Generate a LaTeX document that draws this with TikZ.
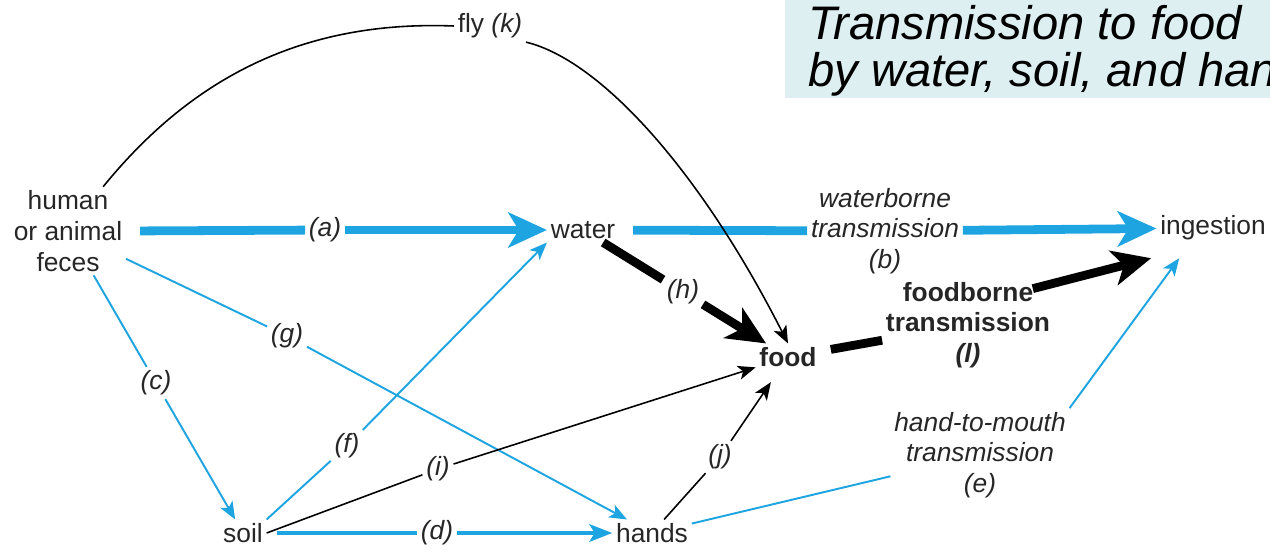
\documentclass[tikz,border=0pt]{standalone}
\usepackage{fontspec}
\setmainfont{Liberation Sans}
\usetikzlibrary{arrows.meta}
\definecolor{flowblue}{RGB}{30,165,225}
\definecolor{titlebg}{RGB}{221,239,241}
\begin{document}
\begin{tikzpicture}[x=0.02cm,y=-0.02cm,
    every node/.style={font=\fontsize{15}{17.5}\selectfont,text=black!85,inner sep=2pt,align=center},
    lab/.style={font=\fontsize{15}{17.5}\selectfont\itshape},
    boldlab/.style={font=\fontsize{15}{17.5}\selectfont\bfseries},
    bigblue/.style={draw=flowblue,line width=5pt},
    bigblack/.style={draw=black,line width=5pt},
    midblue/.style={draw=flowblue,line width=2pt},
    thinblue/.style={draw=flowblue,line width=1.1pt},
    thinblack/.style={draw=black,line width=0.9pt},
    bighead/.style={-{Stealth[length=22pt,width=20pt,inset=6pt]}},
    midhead/.style={-{Stealth[length=13pt,width=10pt,inset=3pt]}},
    smallhead/.style={-{Stealth[length=10pt,width=8pt,inset=2.5pt]}}]
    \useasboundingbox (0,0) rectangle (1270,551);
    \clip (0,0) rectangle (1270,551);
    \fill[titlebg] (785,0) rectangle (1270,98);
    \node[anchor=north west,align=left,inner sep=0pt,text=black,font=\fontsize{26.8}{27}\selectfont\itshape] (title) at (808,5)
        {Transmission to food\\by water, soil, and hands};

    % places
    \node (feces) at (68,231) {human\\or animal\\feces};
    \node (water) at (583,230) {water};
    \node (ingestion) at (1213,228) {ingestion};
    \node[boldlab] (food) at (788,357) {food};
    \node (soil) at (243,533) {soil};
    \node (hands) at (652,533) {hands};
    \node (fly) at (490,26) {fly \textit{(k)}};

    % route labels
    \node[lab] (a) at (325,230) {(a)};
    \node[lab] (wb) at (885,231) {waterborne\\transmission\\(b)};
    \node[lab] (h) at (683,292) {(h)};
    \node[boldlab] (fb) at (968,325) {foodborne\\transmission\\\textit{(l)}};
    \node[lab] (g) at (287,336) {(g)};
    \node[lab] (c) at (156,383) {(c)};
    \node[lab] (f) at (347,446) {(f)};
    \node[lab] (i) at (438,469) {(i)};
    \node[lab] (j) at (720,457) {(j)};
    \node[lab] (he) at (980,455) {hand-to-mouth\\transmission\\(e)};
    \node[lab] (d) at (437,533) {(d)};

    % thick routes
    \draw[bigblue,shorten <=8pt] (feces.east) -- (a);
    \draw[bigblue,bighead] (a) -- (water);
    \draw[bigblue,shorten <=8pt] (water) -- (wb);
    \draw[bigblue,bighead] (wb) -- (ingestion);
    \draw[bigblack] (water) -- (h);
    \draw[bigblack,bighead] (h) -- (food);
    \draw[bigblack,shorten <=6pt] (food) -- (fb);
    \draw[bigblack,bighead] ([shift={(-12pt,-6pt)}]fb.north east) -- ([shift={(-3pt,-8pt)}]ingestion.south west);

    % thin routes
    \draw[thinblue] (feces) -- (c);
    \draw[thinblue,smallhead] (c) -- (soil);
    \draw[thinblue] (feces) -- (g);
    \draw[thinblue,smallhead] (g) -- (hands);
    \draw[thinblue] (soil.north east) -- (f);
    \draw[thinblue,smallhead] (f) -- (water.south west);
    \draw[thinblack] (soil.east) -- (i);
    \draw[thinblack,smallhead] (i) -- (food);
    \draw[midblue,shorten <=6pt] (soil) -- (d);
    \draw[midblue,midhead] (d) -- (hands);
    \draw[thinblack] (hands) -- (j);
    \draw[thinblack,smallhead,shorten >=8pt] (j) -- (food);
    \draw[thinblue] (hands) -- (he);
    \draw[thinblue,smallhead] (he.north east) -- ([shift={(13pt,-8pt)}]ingestion.south west);

    % fly
    \draw[thinblack] ([xshift=20pt]feces.north) .. controls (190,80) and (300,20) .. (fly.west);
    \draw[thinblack,smallhead] (fly.south east) .. controls (600,60) and (700,170) .. (food.north);
\end{tikzpicture}
\end{document}
